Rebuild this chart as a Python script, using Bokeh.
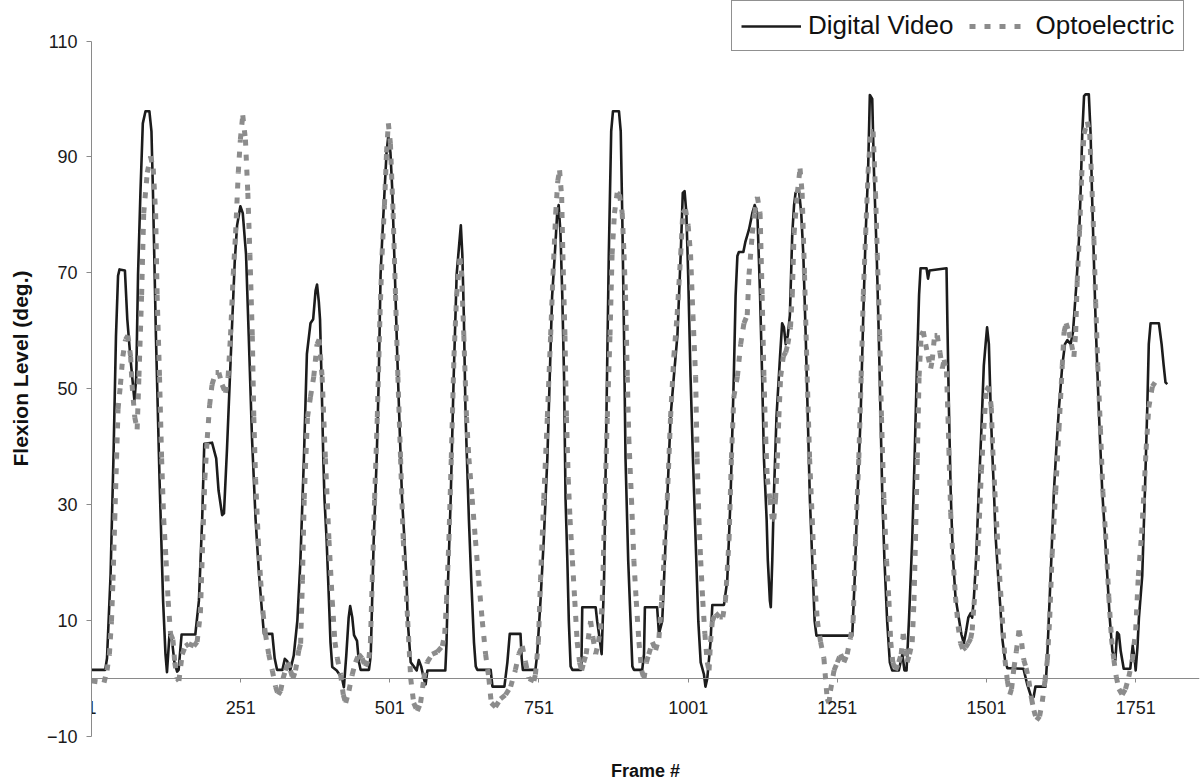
from bokeh.plotting import figure
from bokeh.models import (LinearAxis, FixedTicker, Range1d, Legend, LegendItem,
                          ColumnDataSource)
from bokeh.embed import file_html
from bokeh.resources import INLINE

# ---------------- data ----------------
x_ticks = [1, 251, 501, 751, 1001, 1251, 1501, 1751]
y_ticks = [-10, 10, 30, 50, 70, 90, 110]

frames_video = [
    1, 24, 27, 33, 38, 42, 45.5, 48, 57, 61, 66, 73, 76, 79, 83, 87, 91.5, 98, 101.5, 104,
    109, 115, 121, 125, 127.5, 132, 136, 140, 144.5, 147, 152, 175, 181, 186.5, 190, 203,
    210, 214, 220, 223, 228, 233, 237, 241, 245, 250.5, 254.5, 260, 264.5, 270, 276, 281.5,
    287, 290, 304, 308, 312, 321, 325, 329, 334, 340, 346, 351, 357, 362, 368, 372.5, 376.5,
    379, 382, 384, 386.5, 389.5, 391.5, 395, 399, 401.5, 404.5, 412, 421, 424, 428, 432,
    434.5, 438, 441, 446, 449, 452, 466, 469, 474, 479, 482.5, 485.5, 488, 492, 495.5, 498.5,
    502, 505, 509.5, 513.5, 518, 521.5, 525.5, 529, 531, 536, 541, 546, 549.5, 553.5, 558,
    561, 564, 594, 596, 598, 603, 608, 613, 617, 620, 622.5, 625, 628, 633.5, 637.5, 642,
    645, 647.5, 670, 673, 693, 698, 702, 720, 722, 724, 745, 748, 753.5, 759, 765, 769, 773,
    777.5, 781.5, 784, 787, 790, 793, 795.5, 798.5, 801, 804, 807, 822, 823.5, 846, 848.5,
    852.5, 856, 860, 864, 868, 872, 875, 885, 888, 890.5, 893.5, 896, 900.5, 904.5, 907.5,
    910, 924, 927, 928.5, 949, 952, 957.5, 960.5, 966, 971.5, 977, 983, 988.5, 992, 995, 998,
    1001, 1005, 1009, 1013.5, 1018, 1022, 1027.5, 1030, 1033, 1038.5, 1041.5, 1061, 1066.5,
    1072, 1077.5, 1080.5, 1083.5, 1086, 1093.5, 1097, 1103, 1108.5, 1112.5, 1117, 1121.5,
    1125, 1128, 1132.5, 1134.5, 1138, 1139.5, 1142, 1144.5, 1149, 1155, 1158.5, 1161.5,
    1164.5, 1168, 1171.5, 1175.5, 1178.5, 1181, 1186.5, 1190.5, 1194, 1198, 1201.5, 1205,
    1209, 1213, 1216, 1276, 1280, 1284.5, 1290, 1294.5, 1298.5, 1302.5, 1305.5, 1309.5,
    1312.5, 1317, 1320.5, 1323.5, 1326.5, 1330, 1334.5, 1339, 1343, 1354, 1357, 1360, 1363.5,
    1367, 1371, 1376.5, 1380.5, 1384, 1388, 1390.5, 1400.5, 1403, 1405.5, 1434, 1435.5, 1438,
    1441, 1444.5, 1449, 1454.5, 1459, 1463, 1467, 1470.5, 1474.5, 1477, 1480, 1484, 1488,
    1492.5, 1496.5, 1499.5, 1502, 1505, 1508, 1510.5, 1513.5, 1516, 1520.5, 1524.5, 1527.5,
    1532, 1536, 1563, 1569, 1576, 1580, 1583, 1600, 1603, 1605.5, 1610, 1614, 1618, 1622.5,
    1628, 1632.5, 1636.5, 1642, 1646, 1649, 1652, 1656, 1658.5, 1661.5, 1664.5, 1667, 1672.5,
    1675.5, 1678, 1681, 1684, 1686.5, 1690.5, 1695, 1699.5, 1703.5, 1707.5, 1712, 1717, 1720,
    1723, 1726, 1731, 1742, 1746, 1749.5, 1751, 1754, 1756.5, 1762, 1766.5, 1770.5, 1773,
    1776, 1790, 1794.5, 1798, 1801, 1804,
]
flex_video = [
    1.5, 1.5, 3.5, 18, 39, 59, 69.5, 70.6, 70.4, 62, 55.6, 47.9, 52, 69.7, 83.8, 95.8, 97.9,
    97.9, 94.4, 84, 59, 34.5, 13.4, 4.2, 1.1, 8, 6.5, 2.8, 1.2, 1.5, 7.6, 7.6, 13.4, 27.5,
    40.5, 40.7, 38, 32.4, 28.2, 28.5, 39.4, 52, 62, 71.8, 78.2, 81.5, 80.3, 73.2, 59.2, 41.5,
    27.5, 18.3, 11.3, 7.7, 7.7, 3.5, 1.5, 1.5, 3.4, 3, 1.4, 4, 10, 20, 38, 56, 61.3, 62, 66.9,
    68, 65, 62, 52, 38, 31, 24, 13.4, 6.3, 2, 1.4, 0, -1.5, 4, 10.5, 12.5, 10.6, 7.5, 6.5, 3,
    1.5, 1.5, 4, 24, 38, 52, 69.7, 75.4, 83.8, 90.8, 93.7, 90.8, 84.5, 69.7, 55.6, 41.5, 31,
    23.9, 16.9, 9.9, 2.8, 2.1, 1.4, 3.2, 2.1, 0, -1, 1.4, 1.4, 6, 15, 31, 52, 69.7, 74.6, 78.2,
    73.2, 62.7, 45.1, 27.5, 16.9, 6.3, 2.1, 1.5, 1.5, -1.4, -1.4, 2.8, 7.7, 7.7, 3.5, 1.5, 1.5,
    4.2, 13.4, 24, 38, 52, 66, 73.2, 80.3, 81.7, 76.8, 66.2, 52.1, 31, 20.4, 9.9, 2.1, 1.5,
    1.5, 12.3, 12.3, 9.9, 7, 4.2, 16.9, 45.1, 73.2, 94.4, 97.9, 97.9, 94.4, 80.3, 59.2, 38,
    20.4, 9.9, 2.1, 1.5, 1.5, 4.2, 12.3, 12.3, 7.7, 9.9, 16.9, 31, 45.1, 52.1, 59.2, 73.2,
    83.8, 84.1, 80.3, 69.7, 52.1, 38, 23.9, 9.9, 2.8, 0.7, -1.4, 0, 6.3, 12.7, 12.7, 16.9, 31,
    52.1, 66, 72.9, 73.6, 73.6, 75.4, 77.5, 80.3, 81.7, 80.3, 66.2, 52.1, 38, 27.5, 20.4,
    13.4, 12.3, 20.4, 31, 45.1, 55.6, 61.3, 60.6, 57.7, 59.2, 62.7, 76.8, 81.7, 83.8, 84.5,
    80.3, 73.2, 59.2, 45.1, 31, 20.4, 9.9, 7.4, 7.4, 16.9, 31, 45.1, 62.7, 76.8, 87.3, 100.7,
    100, 87.3, 73.2, 59.2, 45.1, 31, 20.4, 9.9, 2.8, 1.4, 1.4, 2.8, 4.2, 1.4, 1.4, 9.9, 23.9,
    38, 52.1, 66.2, 70.8, 70.8, 69, 70.4, 70.8, 61.3, 46.8, 32.3, 21.4, 14.1, 10.5, 7.6, 6.1,
    8.3, 10.5, 11.3, 10.5, 14.1, 21.4, 32.3, 43.1, 54, 57.7, 60.6, 57.7, 46.8, 39.5, 32.3, 25,
    17.7, 11.9, 6.9, 3.2, 1.8, 1.7, -0.9, -3.2, -3.2, -1.4, -1.4, 4, 10.5, 21.4, 32.3, 39.5,
    46.8, 54, 57.7, 58.4, 57.7, 59.8, 64.2, 68.5, 75.8, 83.1, 94, 100.5, 100.8, 100.8, 94,
    83.1, 72.2, 61.3, 54, 43.1, 32.3, 25, 17.7, 10.5, 4.7, 3.2, 8, 7.6, 4.7, 1.7, 1.7, 5.7,
    3.2, 1.4, 5.4, 10.5, 17.7, 32.3, 46.8, 57.7, 61.3, 61.3, 57.7, 54, 51.1, 50.8,
]

frames_opto = [
    1, 22, 27, 31, 34.5, 37, 40, 43, 45.5, 49.5, 53.5, 58, 62, 66.5, 69, 73.5, 77.5, 80.5, 85,
    88.5, 94.5, 100, 104.5, 108.5, 111, 115, 118.5, 122, 126, 129.5, 133.5, 137.5, 140.5,
    144.5, 147.5, 153, 158.5, 164, 172.5, 178, 183.5, 187.5, 191, 195, 199, 203, 209, 214.5,
    220, 225.5, 230, 234, 238.5, 242.5, 247, 250.5, 254.5, 259, 263, 266.5, 270.5, 273, 276,
    280.5, 284.5, 288.5, 292.5, 298, 304, 309.5, 314, 318, 322, 326, 330.5, 334.5, 338.5, 343,
    348.5, 351.5, 354.5, 357.5, 363, 368, 373.5, 379, 382.5, 387.5, 393, 399, 404.5, 409, 413,
    418.5, 423, 427, 432.5, 438, 443.5, 449, 454.5, 460, 466, 468.5, 471.5, 475.5, 480, 484.5,
    488, 492, 495.5, 498.5, 502, 506.5, 510.5, 514.5, 519, 523.5, 527.5, 531, 536, 541, 547,
    552.5, 558, 563.5, 572, 580.5, 589, 593, 596, 600, 604, 608.5, 613, 618.5, 621, 625, 629.5,
    633.5, 639, 644.5, 650, 656, 661.5, 667, 671, 678, 686.5, 695, 703.5, 711.5, 717, 723,
    728.5, 734, 742.5, 745, 750, 753.5, 759, 765, 770.5, 774.5, 779, 782.5, 785.5, 789, 791,
    794.5, 797, 800, 803, 807, 811, 815, 819, 822.5, 826, 830, 837.5, 841.5, 846, 850.5, 854,
    857, 861.5, 865.5, 870, 873.5, 877.5, 882, 886, 890.5, 893.5, 896, 899, 901.5, 906, 910,
    914, 918.5, 923, 927, 931, 935, 941, 946.5, 952, 956.5, 960.5, 966, 971.5, 977, 982.5,
    988.5, 992, 996.5, 1001, 1005, 1009, 1013.5, 1016, 1019, 1022, 1025.5, 1029, 1033, 1036,
    1038.5, 1041.5, 1047, 1053.5, 1059, 1063.5, 1069.5, 1073.5, 1077.5, 1083.5, 1089, 1094.5,
    1100, 1103, 1108.5, 1112.5, 1117, 1121.5, 1125, 1128, 1131, 1133.5, 1138, 1142, 1144.5,
    1147.5, 1150.5, 1153, 1156, 1160.5, 1164.5, 1168, 1172.5, 1175.5, 1178.5, 1184, 1188.5,
    1192, 1196, 1200.5, 1204.5, 1209, 1213, 1217.5, 1223, 1228.5, 1234, 1237, 1239.5, 1245.5,
    1251, 1256.5, 1262, 1267.5, 1273, 1277.5, 1281.5, 1287, 1291, 1294.5, 1298.5, 1302.5,
    1307, 1311, 1315, 1318, 1322, 1325, 1329, 1333.5, 1337.5, 1340.5, 1344, 1348.5, 1354,
    1358, 1361.5, 1365.5, 1368, 1372, 1376.5, 1379.5, 1382, 1385, 1388, 1391.5, 1395, 1399,
    1403, 1407.5, 1410, 1414, 1418.5, 1423, 1427, 1430, 1434, 1436.5, 1438, 1441, 1444.5,
    1449, 1453.5, 1457.5, 1461.5, 1466, 1470.5, 1474.5, 1477, 1480, 1484, 1488, 1492.5,
    1496.5, 1500.5, 1505, 1509, 1511.5, 1515, 1519, 1523, 1527.5, 1532, 1536, 1540, 1543,
    1547, 1551, 1555.5, 1560, 1563.5, 1567.5, 1572, 1576.5, 1580.5, 1585, 1590, 1594.5, 1599,
    1603, 1607, 1611, 1617, 1622.5, 1628, 1631, 1634.5, 1639, 1643.5, 1647.5, 1650.5, 1653,
    1657, 1660.5, 1664.5, 1670, 1674, 1677, 1681, 1684, 1687.5, 1692, 1696, 1700.5, 1706,
    1710.5, 1714.5, 1718.5, 1723, 1728.5, 1734, 1739.5, 1745.5, 1751, 1755.5, 1761, 1765,
    1768.5, 1773, 1779, 1783.5,
]
flex_opto = [
    -0.4, -0.7, 1.4, 4.2, 9.9, 16.9, 27.5, 38, 46.5, 50.7, 55.6, 58.5, 59.2, 55.6, 50.7, 45.1,
    43, 52.1, 66.2, 80.3, 87.3, 90.1, 88, 80.3, 66.2, 52.1, 38, 27.5, 20.4, 13.4, 7.7, 6.7,
    2.8, 0, -0.4, 4.2, 5.6, 6, 5.6, 6.3, 11.3, 23.9, 34.5, 41.5, 47.2, 50.7, 52.8, 52.8, 50.7,
    49.3, 52.1, 59.2, 69.7, 76.8, 87.3, 93, 97.2, 93, 83.8, 73.2, 59.2, 45.1, 34.5, 23.9,
    16.9, 11.3, 7.7, 4.2, 1.4, -1.4, -2.8, -2.1, 0, 1.4, 2.8, 1.4, 0, 1.4, 4.9, 6, 16.9, 31,
    45.1, 48.6, 52.1, 57.7, 58.5, 52.1, 38, 23.9, 13.4, 6.3, 3.5, 0.7, -2.8, -4.2, -2.1, 0.7,
    2.8, 4.2, 3.5, 2.1, 3.5, 6.3, 16.9, 31, 45.1, 62.7, 73.2, 81.7, 90.8, 95.8, 92.3, 80.3,
    66.2, 52.1, 38, 23.9, 16.9, 9.9, 0, -4.2, -5.6, -4.2, 0, 2.8, 4.2, 4.6, 5.6, 7.7, 13.4,
    23.9, 38, 55.6, 66.2, 72.5, 70.4, 59.2, 45.1, 38, 31, 23.9, 16.9, 9.9, 4.2, 0, -4.2, -4.9,
    -3.5, -2.8, -1.4, 1.5, 4.2, 5.6, 2.8, 0, -0.4, 0.7, 6.3, 16.9, 31, 45.1, 59.2, 69.7, 80.3,
    85.9, 87.7, 83.1, 73.2, 59.2, 45.1, 34.5, 27.5, 20.4, 13.4, 6.3, 2.8, 1.4, 2.8, 4.2, 9.9,
    7, 4.2, 6.3, 8.5, 13.4, 31, 45.1, 59.2, 73.2, 80.3, 83.8, 83.5, 80.3, 73.2, 66.2, 52.1,
    41.5, 31, 20.4, 13.4, 6.3, 1.4, 0, 2.8, 4.2, 6.3, 4.9, 7, 13.4, 20.4, 31, 45.1, 55.6,
    62.7, 73.2, 80.3, 81, 78.2, 73.2, 62.7, 52.1, 38, 27.5, 20.4, 13.4, 7.7, 2.8, 1.4, 6.3,
    9.9, 11.3, 10.6, 10.6, 13.4, 23.9, 38, 48.6, 52.1, 57.7, 61.3, 62.7, 69.7, 76.8, 80.3,
    83.1, 80.3, 66.2, 52.1, 41.5, 34.5, 31, 27.5, 27.5, 31, 38, 45.1, 52.1, 55.6, 56.3, 57.7,
    60.6, 66.2, 76.8, 83.8, 88, 83.8, 69.7, 52.1, 38, 27.5, 16.9, 9.9, 6.3, 3.5, -3.5, -4.2,
    -2.1, 1.4, 2.8, 4.2, 2.8, 4.2, 7, 9.9, 23.9, 38, 52.1, 66.2, 76.8, 87.3, 94.4, 94.4, 83.8,
    73.2, 59.2, 45.1, 31, 20.4, 13.4, 6.3, 2.8, 1.4, 2.8, 4.2, 7.7, 4.9, 2.8, 4.2, 6.3, 13.4,
    23.9, 38, 52.1, 59.2, 59.9, 57.7, 55.6, 53.5, 54.9, 59.2, 59.2, 56.3, 53.5, 55, 53, 45,
    39.5, 28.6, 21.4, 14.1, 9, 6.1, 5, 5.4, 6.1, 6.9, 8.3, 12.7, 17.7, 25, 35.9, 43.1, 49.7,
    50.4, 46.8, 39.5, 32.3, 25, 17.7, 10.5, 3.2, -0.4, -2.8, -1.8, 1.8, 4.7, 8.3, 6.1, 3.2,
    1.8, -0.4, -3.5, -5.5, -7.2, -6.5, -4, -0.4, 3.2, 10.5, 21.4, 32.3, 43.1, 54, 59.8, 61.3,
    59.8, 57.7, 55.5, 59.8, 68.5, 77.3, 86.7, 94, 96.1, 94, 86.7, 75.8, 64.9, 54, 43.1, 32.3,
    25, 14.1, 6.9, 3.2, 0.3, -1.8, -2.8, -1.8, 0.3, 3.2, 8.3, 17.7, 25, 32.3, 39.5, 46.8,
    50.4, 51.1,
]

# ---------------- figure ----------------
FONT = "Liberation Sans"
AXIS_GRAY = "#8a8a8a"
FRAME_H = 736

p = figure(width=1203, height=783, output_backend="svg", toolbar_location=None,
           x_range=Range1d(1, 1858), y_range=Range1d(-10, 117),
           x_axis_location=None, y_axis_location=None,
           min_border_left=91, min_border_right=4, min_border_top=0,
           min_border_bottom=47, background_fill_color="white",
           border_fill_color="white")
p.xgrid.visible = False
p.ygrid.visible = False
p.outline_line_color = None

# y axis
yaxis = LinearAxis(ticker=FixedTicker(ticks=y_ticks), bounds=(-10, 110),
                   axis_label="Flexion Level (deg.)")
yaxis.axis_line_color = AXIS_GRAY
yaxis.major_tick_line_color = AXIS_GRAY
yaxis.major_tick_out = 5
yaxis.major_tick_in = 0
yaxis.minor_tick_out = 0
yaxis.minor_tick_in = 0
yaxis.major_label_standoff = 9
yaxis.major_label_text_font = FONT
yaxis.major_label_text_font_size = "18px"
yaxis.major_label_text_color = "#1a1a1a"
yaxis.axis_label_text_font = FONT
yaxis.axis_label_text_font_style = "bold"
yaxis.axis_label_text_font_size = "21px"
yaxis.axis_label_text_color = "#111111"
yaxis.axis_label_standoff = 12
p.add_layout(yaxis, "left")

# x axis, crossing at y = 0
xaxis = LinearAxis(ticker=FixedTicker(ticks=x_ticks), fixed_location=0)
xaxis.axis_line_color = AXIS_GRAY
xaxis.major_tick_line_color = AXIS_GRAY
xaxis.major_tick_out = 4
xaxis.major_tick_in = 0
xaxis.minor_tick_out = 0
xaxis.minor_tick_in = 0
xaxis.major_label_standoff = 18
xaxis.major_label_text_font = FONT
xaxis.major_label_text_font_size = "18px"
xaxis.major_label_text_color = "#1a1a1a"
p.add_layout(xaxis, "below")

# axis title below the frame (no ticks, no line)
xtitle = LinearAxis(ticker=FixedTicker(ticks=[]), axis_label="Frame #")
xtitle.axis_line_color = None
xtitle.major_tick_line_color = None
xtitle.minor_tick_line_color = None
xtitle.major_tick_out = 0
xtitle.minor_tick_out = 0
xtitle.major_label_text_font_size = "0px"
xtitle.axis_label_text_font = FONT
xtitle.axis_label_text_font_style = "bold"
xtitle.axis_label_text_font_size = "18px"
xtitle.axis_label_text_color = "#111111"
xtitle.axis_label_standoff = 24
p.add_layout(xtitle, "below")

# series
r_video = p.line(frames_video, flex_video, line_color="#1c1c1c", line_width=2.6,
                 line_join="round")

opto_src = ColumnDataSource(dict(
    x0=frames_opto[:-1], y0=flex_opto[:-1],
    x1=frames_opto[1:], y1=flex_opto[1:],
))
r_opto = p.segment("x0", "y0", "x1", "y1", source=opto_src, line_color="#8c8c8c",
                   line_width=5, line_dash="6 9", line_cap="butt")

LEG_H = 44
legend = Legend(items=[LegendItem(label="Digital Video", renderers=[r_video]),
                       LegendItem(label="Optoelectric", renderers=[r_opto])],
                location=(640, FRAME_H - 7 - LEG_H), orientation="horizontal",
                glyph_width=60, glyph_height=20, label_standoff=7, spacing=15,
                padding=9, margin=0, border_line_color="#222222",
                border_line_width=1, background_fill_color="white",
                background_fill_alpha=1.0, label_text_font=FONT,
                label_text_font_size="26px", label_text_color="#111111")
p.add_layout(legend)

open("out.html", "w").write(file_html(p, INLINE))
